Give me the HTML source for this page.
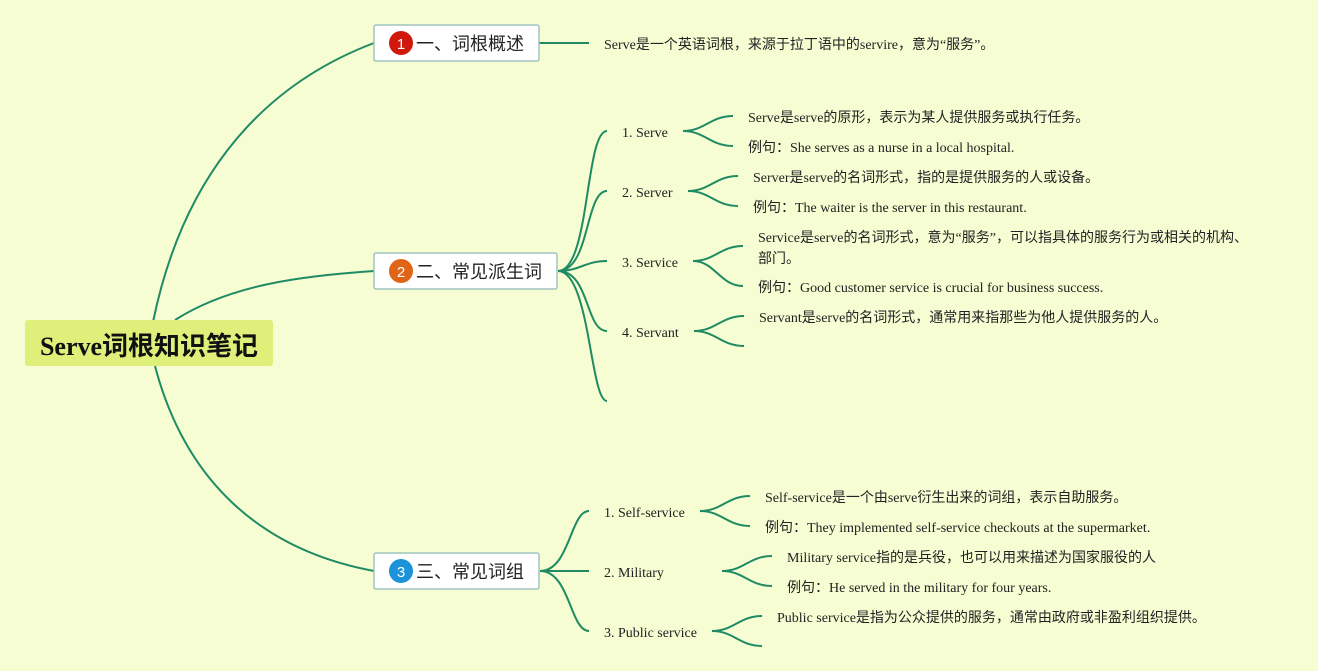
<!DOCTYPE html>
<html><head><meta charset="utf-8"><style>
html,body{margin:0;padding:0;background:#f6fdd2;}
svg{display:block}
text{font-family:"Liberation Serif","Noto Sans CJK SC",serif;font-size:14px;fill:#222;}
.t{font-family:"Liberation Sans","Noto Sans CJK SC",sans-serif;font-size:18px;fill:#222;}
.n{font-family:"Liberation Sans",sans-serif;font-size:15px;fill:#fff;}
</style></head><body>
<svg width="1318" height="671" viewBox="0 0 1318 671" xmlns="http://www.w3.org/2000/svg">
<rect width="1318" height="671" fill="#f6fdd2"/>
<g fill="none" stroke="#1f8a64" stroke-width="2">
<path d="M153 322 C180 190 250 90 374 43"/>
<path d="M175 320 C230 285 300 276 374 271"/>
<path d="M155 366 C185 480 260 550 374 571"/>
<path d="M539 43 L589 43"/>
<path d="M558 271 C590 271 585 131 607 131"/>
<path d="M558 271 C590 271 585 191 607 191"/>
<path d="M558 271 C580 271 585 261 607 261"/>
<path d="M558 271 C590 271 585 331 607 331"/>
<path d="M558 271 C590 271 590 401 607 401"/>
<path d="M540 571 C570 571 570 511 589 511"/>
<path d="M540 571 L589 571"/>
<path d="M540 571 C570 571 570 631 589 631"/>
<path d="M683 131 C705 131 710 116 733 116 M683 131 C705 131 710 146 733 146"/>
<path d="M688 191 C710 191 715 176 738 176 M688 191 C710 191 715 206 738 206"/>
<path d="M693 261 C715 261 720 246 743 246 M693 261 C715 261 720 286 743 286"/>
<path d="M694 331 C716 331 721 316 744 316 M694 331 C716 331 721 346 744 346"/>
<path d="M700 511 C722 511 727 496 750 496 M700 511 C722 511 727 526 750 526"/>
<path d="M722 571 C744 571 749 556 772 556 M722 571 C744 571 749 586 772 586"/>
<path d="M712 631 C734 631 739 616 762 616 M712 631 C734 631 739 646 762 646"/>
</g>
<rect x="25" y="320" width="248" height="46" rx="3" fill="#dff07a"/>
<text x="149" y="355" text-anchor="middle" style="font-size:26px;font-weight:bold;fill:#111">Serve词根知识笔记</text>
<g fill="#fff" stroke="#9fc4bf" stroke-width="1.5">
<rect x="374" y="25" width="165" height="36" rx="2"/>
<rect x="374" y="253" width="183" height="36" rx="2"/>
<rect x="374" y="553" width="165" height="36" rx="2"/>
</g>
<circle cx="401" cy="43" r="12" fill="#d0190c"/><text class="n" x="401" y="49" text-anchor="middle">1</text>
<circle cx="401" cy="271" r="12" fill="#e06416"/><text class="n" x="401" y="277" text-anchor="middle">2</text>
<circle cx="401" cy="571" r="12" fill="#1a93d9"/><text class="n" x="401" y="577" text-anchor="middle">3</text>
<text class="t" x="416" y="50">一、词根概述</text>
<text class="t" x="416" y="278">二、常见派生词</text>
<text class="t" x="416" y="578">三、常见词组</text>
<text x="604" y="49">Serve是一个英语词根，来源于拉丁语中的servire，意为“服务”。</text>
<text x="622" y="137">1. Serve</text>
<text x="622" y="197">2. Server</text>
<text x="622" y="267">3. Service</text>
<text x="622" y="337">4. Servant</text>
<text x="748" y="122">Serve是serve的原形，表示为某人提供服务或执行任务。</text>
<text x="748" y="152">例句：She serves as a nurse in a local hospital.</text>
<text x="753" y="182">Server是serve的名词形式，指的是提供服务的人或设备。</text>
<text x="753" y="212">例句：The waiter is the server in this restaurant.</text>
<text x="758" y="242">Service是serve的名词形式，意为“服务”，可以指具体的服务行为或相关的机构、</text>
<text x="758" y="263">部门。</text>
<text x="758" y="292">例句：Good customer service is crucial for business success.</text>
<text x="759" y="322">Servant是serve的名词形式，通常用来指那些为他人提供服务的人。</text>
<text x="604" y="517">1. Self-service</text>
<text x="604" y="577">2. Military</text>
<text x="604" y="637">3. Public service</text>
<text x="765" y="502">Self-service是一个由serve衍生出来的词组，表示自助服务。</text>
<text x="765" y="532">例句：They implemented self-service checkouts at the supermarket.</text>
<text x="787" y="562">Military service指的是兵役，也可以用来描述为国家服役的人</text>
<text x="787" y="592">例句：He served in the military for four years.</text>
<text x="777" y="622">Public service是指为公众提供的服务，通常由政府或非盈利组织提供。</text>
</svg>
</body></html>
